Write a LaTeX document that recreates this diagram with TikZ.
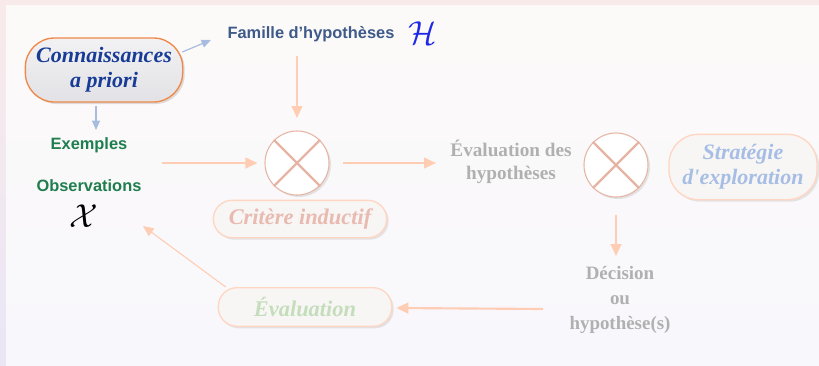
\documentclass[tikz,border=0pt]{standalone}
\usepackage{amssymb, amsmath}
\usepackage{fontspec}
\setmainfont{Liberation Serif}
\setsansfont{Liberation Sans}
\usetikzlibrary{calc,arrows.meta,shadows}

\definecolor{peach}{RGB}{255,204,180}
\definecolor{peachline}{RGB}{255,214,194}
\definecolor{crossred}{RGB}{230,180,164}
\definecolor{skyline}{RGB}{168,188,224}
\definecolor{darkblue}{RGB}{24,60,150}
\definecolor{steelblue}{RGB}{62,90,138}
\definecolor{hblue}{RGB}{30,40,230}
\definecolor{exgreen}{RGB}{30,126,78}
\definecolor{greytext}{RGB}{176,176,176}
\definecolor{pinktext}{RGB}{232,186,176}
\definecolor{lightblue}{RGB}{166,190,228}
\definecolor{lightgreen}{RGB}{196,222,188}
\definecolor{boxorange}{RGB}{240,136,72}

\begin{document}
\begin{tikzpicture}[x=0.75pt,y=-0.75pt]
    \tikzstyle{pale box}=[draw=peachline,line width=1pt,fill={rgb,255:red,248;green,245;blue,245},
        rounded corners=14pt,drop shadow={opacity=.18,shadow xshift=1.5pt,shadow yshift=-1.5pt},
        inner sep=0pt,font=\bfseries\itshape\fontsize{16.8}{20}\selectfont,align=center]
    \tikzstyle{cross node}=[circle,draw=crossred,line width=.8pt,fill=white,minimum size=48pt,inner sep=0pt,
        drop shadow={opacity=.18,shadow xshift=1.5pt,shadow yshift=-1.5pt}]
    \tikzstyle{grey label}=[text=greytext,font=\bfseries\fontsize{14.4}{17.25}\selectfont,align=center]
    \tikzstyle{green label}=[text=exgreen,font=\sffamily\bfseries\fontsize{12.3}{14}\selectfont]
    \tikzstyle{peach arrow}=[draw=peach,line width=1.6pt,-{Triangle[length=9pt,width=8pt]}]
    \tikzstyle{sky arrow}=[draw=skyline,line width=.9pt,-{Triangle[length=7pt,width=6pt]}]

    \useasboundingbox (0,0) rectangle (819,365);
    % background
    \shade[top color={rgb,255:red,248;green,234;blue,234},bottom color={rgb,255:red,234;green,230;blue,246}]
        (0,0) rectangle (819,365);
    \shade[top color={rgb,255:red,252;green,250;blue,248},bottom color={rgb,255:red,248;green,247;blue,252}]
        (6,5) rectangle (819,365);

    % boxes
    \node(ca)[draw=boxorange,line width=1pt,top color={rgb,255:red,242;green,242;blue,244},
        bottom color={rgb,255:red,226;green,226;blue,230},rounded corners=22pt,
        minimum width=118pt,minimum height=48pt,inner sep=0pt,align=center,text=darkblue,
        font=\bfseries\itshape\fontsize{16.5}{18.75}\selectfont,
        drop shadow={opacity=.25,shadow xshift=1.5pt,shadow yshift=-1.5pt}] at (104,70) {Connaissances\\a priori};
    \node(ci)[pale box,minimum width=130pt,minimum height=28pt,text=pinktext] at (300,219) {Critère inductif};
    \node(se)[pale box,minimum width=111pt,minimum height=49pt,text=lightblue,rounded corners=22pt,
        font=\bfseries\itshape\fontsize{16.5}{19}\selectfont] at (743,167) {Stratégie\\d\textquotesingle exploration};
    \node(ev)[pale box,minimum width=130pt,minimum height=29pt,text=lightgreen] at (305,307) {Évaluation};

    % labels
    \node(fh)[text=steelblue,font=\sffamily\bfseries\fontsize{12.3}{14}\selectfont] at (311,34) {Famille d’hypothèses};
    \node(hh)[text=hblue,font=\fontsize{26}{28}\selectfont] at (423,33) {$\mathcal{H}$};
    \node(ex)[green label] at (89,145) {Exemples};
    \node(ob)[green label] at (89,186) {Observations};
    \node(xx)[font=\fontsize{24}{26}\selectfont] at (84,216) {$\mathcal{X}$};
    \node(eh)[grey label] at (511,162) {Évaluation des\\hypothèses};
    \node(dh)[grey label,font=\bfseries\fontsize{14.2}{19}\selectfont] at (620,300) {Décision\\ou\\hypothèse(s)};

    % crosses
    \node(c1)[cross node] at (297,163) {};
    \node(c2)[cross node] at (616,165) {};
    \foreach \c in {c1,c2}{
        \draw[crossred,line width=1.6pt] (\c.45) -- (\c.225);
        \draw[crossred,line width=1.6pt] (\c.135) -- (\c.-45);
    }

    % free ends
    \coordinate(a1) at (162,163);
    \coordinate(a2) at (343,163);
    \coordinate(a3) at (436,163);
    \coordinate(a4) at (616,215);
    \coordinate(a5) at (616,256);
    \coordinate(a6) at (543,309);
    \coordinate(a7) at (297,56);
    \coordinate(a8) at (143,226);
    \coordinate(a9) at (96,130);

    % connectors
    \draw[peach arrow] (a7) -- (c1.north |- 0,118);
    \draw[peach arrow] (a1) -- ($(c1.west)+(-7,0)$);
    \draw[peach arrow] (a2) -- (a3);
    \draw[peach arrow] (a4) -- (a5);
    \draw[peach arrow] (a6) -- ($(ev.east)+(4,1)$);
    \draw[draw=peach,line width=.8pt,-{Triangle[length=8pt,width=7pt]}] (ev.north west) ++(8,0) -- (a8);
    \draw[sky arrow] ($(ca.east)+(-1,-18)$) -- ($(fh.west)+(-12,6)$);
    \draw[sky arrow] ($(ca.south)+(-8,3)$) -- (a9);
\end{tikzpicture}
\end{document}
